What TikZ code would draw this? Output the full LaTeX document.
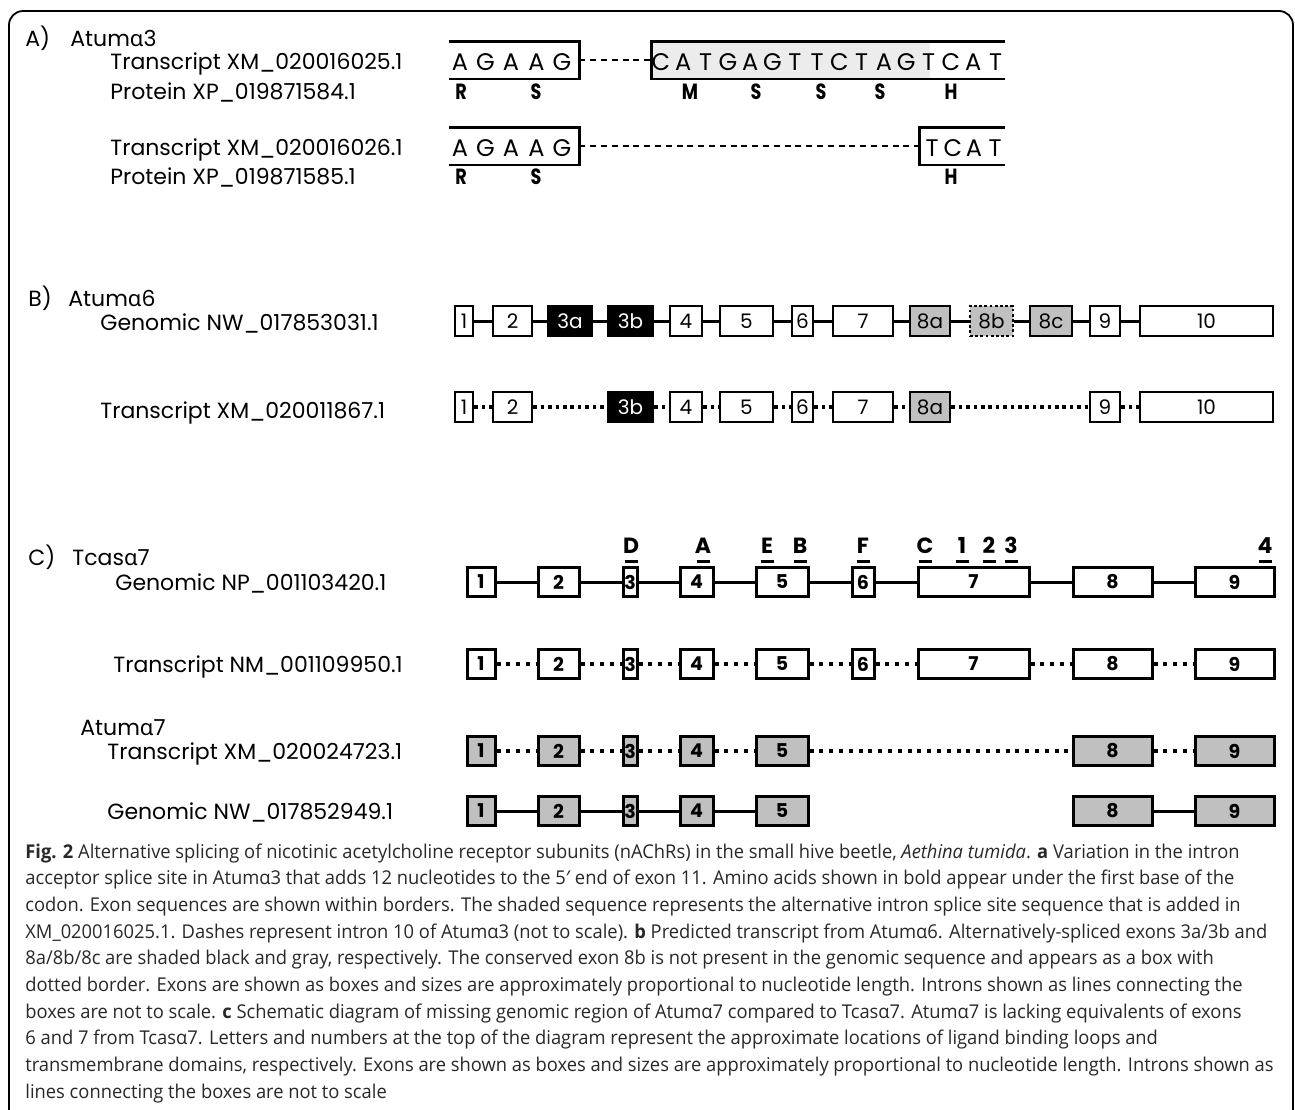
\documentclass[tikz,border=0pt]{standalone}
\usepackage{fontspec}
\setmainfont{Poppins}
\newfontfamily\grkfont{Noto Sans}
\newfontfamily\capfont{Open Sans}[FakeStretch=0.965]
\newfontfamily\aafont{Poppins}[FakeStretch=0.8]
\usetikzlibrary{positioning}
\definecolor{ExonGray}{RGB}{192,192,192}
\definecolor{SeqShade}{RGB}{236,236,236}
\definecolor{CapInk}{RGB}{40,40,40}
\newcommand\galpha{{\grkfont α}}
\newcommand\gprime{{\grkfont ′}}

\begin{document}
\begin{tikzpicture}[x=0.5pt,y=-0.5pt,
    seqname/.style={anchor=base west,inner sep=0,font=\fontsize{11}{13}\selectfont},
    seqrun/.style={minimum height=18.5pt,inner sep=0},
    seqedge/.style={line width=1.4pt},
    nucl/.style={anchor=base,inner sep=0,font=\fontsize{12}{14}\selectfont},
    amino/.style={anchor=base,inner sep=0,font=\aafont\bfseries\fontsize{11}{13}\selectfont},
    intron/.style={line width=0.6pt,dash pattern=on 3pt off 2.4pt},
    exon/.style={draw,line width=1.4pt,minimum height=15pt,inner sep=0,font=\fontsize{10}{12}\selectfont},
    cexon/.style={draw,line width=1.5pt,minimum height=14.5pt,inner sep=0,font=\bfseries\fontsize{9.5}{11}\selectfont},
    genline/.style={line width=1.5pt},
    txline/.style={line width=1.8pt,dash pattern=on 1.8pt off 1.9pt},
    ctxline/.style={line width=1.8pt,dash pattern=on 2pt off 2.9pt},
    loopmark/.style={anchor=base,inner sep=0,font=\bfseries\fontsize{11}{13}\selectfont},
    capline/.style={anchor=base west,inner sep=0,text=CapInk,font=\capfont\fontsize{9.5}{11}\selectfont}]
  \clip (0,0) rectangle (1295,1109);
  \fill[white] (0,0) rectangle (1295,1109);
  \draw[line width=0.9pt,rounded corners=7pt] (9,11) rectangle (1293,1140);

  % A) Atuma3
  \node[seqname] (lblA) at (25,46) {A)};
  \node[seqname] (genA) at (70,46) {Atum\galpha3};
  \node[seqname] (txA1) at (110,69) {Transcript XM\_020016025.1};
  \node[seqname] (prA1) at (110,99) {Protein XP\_019871584.1};
  \node[seqname] (txA2) at (110,155) {Transcript XM\_020016026.1};
  \node[seqname] (prA2) at (110,184) {Protein XP\_019871585.1};

  \node[seqrun,minimum width=65pt] (sq1) at (514,60) {};
  \node[seqrun,fill=SeqShade,minimum width=139pt] (sq2) at (791,60) {};
  \node[seqrun,minimum width=37.5pt] (sq3) at (967.5,60) {};
  \draw[seqedge] (sq1.north west) -- (sq1.north east) -- (sq1.south east) -- (sq1.south west);
  \draw[seqedge] (sq3.north east) -- (sq2.north west) -- (sq2.south west) -- (sq3.south east);
  \draw[intron] (sq1.east) -- (sq2.west);
  \foreach \b [count=\i from 0] in {A,G,A,A,G}
    \node[nucl] (ra\i) at (460+25.5*\i,70) {\b};
  \foreach \b [count=\i from 0] in {C,A,T,G,A,G,T,T,C,T,A,G,T,C,A,T}
    \node[nucl] (rb\i) at (661+22.3*\i,70) {\b};
  \foreach \aa/\x [count=\i] in {R/461,S/536,M/690,S/756,S/821,S/880,H/951}
    \node[amino] (pa\i) at (\x,99) {\aa};

  \node[seqrun,minimum width=65pt] (sq4) at (514,146) {};
  \node[seqrun,minimum width=42.5pt] (sq5) at (962.5,146) {};
  \draw[seqedge] (sq4.north west) -- (sq4.north east) -- (sq4.south east) -- (sq4.south west);
  \draw[seqedge] (sq5.north east) -- (sq5.north west) -- (sq5.south west) -- (sq5.south east);
  \draw[intron] (sq4.east) -- (sq5.west);
  \foreach \b [count=\i from 0] in {A,G,A,A,G}
    \node[nucl] (rc\i) at (460+25.5*\i,156) {\b};
  \foreach \b [count=\i from 0] in {T,C,A,T}
    \node[nucl] (rd\i) at (932+21*\i,156) {\b};
  \foreach \aa/\x [count=\i] in {R/461,S/536,H/951}
    \node[amino] (pb\i) at (\x,184) {\aa};

  % B) Atuma6
  \node[seqname] (lblB) at (28,306) {B)};
  \node[seqname] (genB) at (68,306) {Atum\galpha6};
  \node[seqname] (gnB) at (100,330) {Genomic NW\_017853031.1};
  \node[seqname] (txB) at (100,418) {Transcript XM\_020011867.1};

  \foreach \n/\xa/\xb/\fc/\tc in {1/455/473/white/black,2/493/532/white/black,
      3a/548/592/black/white,3b/608/653/black/white,4/670/702/white/black,
      5/720/773/white/black,6/792/813/white/black,7/833/893/white/black,
      8a/910/950/ExonGray/black,8c/1030/1072/ExonGray/black,
      9/1090/1120/white/black,10/1140/1273/white/black}
    \node[exon,fill=\fc,text=\tc,minimum width={(\xb-\xa)*0.5pt}] (g\n) at ({(\xa+\xb)/2},321) {\n};
  \node[exon,fill=ExonGray,dash pattern=on 1.4pt off 1.2pt,minimum width=21.5pt] (g8b) at (991.5,321) {8b};
  \foreach \a/\b in {1/2,2/3a,3a/3b,3b/4,4/5,5/6,6/7,7/8a,8a/8b,8b/8c,8c/9,9/10}
    \draw[genline] (g\a) -- (g\b);

  \foreach \n/\xa/\xb/\fc/\tc in {1/455/473/white/black,2/493/532/white/black,
      3b/608/653/black/white,4/670/702/white/black,5/720/773/white/black,
      6/792/813/white/black,7/833/893/white/black,8a/910/950/ExonGray/black,
      9/1090/1120/white/black,10/1140/1273/white/black}
    \node[exon,fill=\fc,text=\tc,minimum width={(\xb-\xa)*0.5pt}] (t\n) at ({(\xa+\xb)/2},407) {\n};
  \foreach \a/\b in {1/2,2/3b,3b/4,4/5,5/6,6/7,7/8a,8a/9,9/10}
    \draw[txline] (t\a) -- (t\b);

  % C) Tcasa7 / Atuma7
  \node[seqname] (lblC) at (28,565) {C)};
  \node[seqname] (genC) at (72,565) {Tcas\galpha7};
  \node[seqname] (gnC1) at (115,590) {Genomic NP\_001103420.1};
  \node[seqname] (txC1) at (113,672) {Transcript NM\_001109950.1};
  \node[seqname] (genD) at (80,735) {Atum\galpha7};
  \node[seqname] (txC2) at (107,759) {Transcript XM\_020024723.1};
  \node[seqname] (gnC2) at (107,819) {Genomic NW\_017852949.1};

  \foreach \m/\x in {D/631,A/703,E/767,B/800,F/863,C/925,1/962,2/989,3/1011,4/1265}{
    \node[loopmark] (dm\m) at (\x,553) {\m};
    \draw[line width=1.5pt] (\x-6.5,561) -- (\x+6.5,561);
  }

  \foreach \n/\xa/\xb in {1/467/495,2/538/579,3/623/637,4/680/713,5/756/808,
      6/852/874,7/918/1029,8/1073/1152,9/1195/1274}{
    \node[cexon,fill=white,minimum width={(\xb-\xa)*0.5pt}] (cg\n) at ({(\xa+\xb)/2},582) {\n};
    \node[cexon,fill=white,minimum width={(\xb-\xa)*0.5pt}] (ct\n) at ({(\xa+\xb)/2},664) {\n};
  }
  \foreach \n/\xa/\xb in {1/467/495,2/538/579,3/623/637,4/680/713,5/756/808,
      8/1073/1152,9/1195/1274}{
    \node[cexon,fill=ExonGray,minimum width={(\xb-\xa)*0.5pt}] (at\n) at ({(\xa+\xb)/2},751) {\n};
    \node[cexon,fill=ExonGray,minimum width={(\xb-\xa)*0.5pt}] (ag\n) at ({(\xa+\xb)/2},811) {\n};
  }
  \foreach \a/\b in {1/2,2/3,3/4,4/5,5/6,6/7,7/8,8/9}{
    \draw[genline] (cg\a) -- (cg\b);
    \draw[ctxline] (ct\a) -- (ct\b);
  }
  \foreach \a/\b in {1/2,2/3,3/4,4/5,5/8,8/9}
    \draw[ctxline] (at\a) -- (at\b);
  \foreach \a/\b in {1/2,2/3,3/4,4/5,8/9}
    \draw[genline] (ag\a) -- (ag\b);

  % caption
  \node[capline] (cap1) at (25,858) {{\bfseries Fig. 2} Alternative splicing of nicotinic acetylcholine receptor subunits (nAChRs) in the small hive beetle, \textit{Aethina tumida}. \textbf{a} Variation in the intron};
  \node[capline] (cap2) at (25,884.7) {acceptor splice site in Atumα3 that adds 12 nucleotides to the 5\gprime{} end of exon 11. Amino acids shown in bold appear under the first base of the};
  \node[capline] (cap3) at (25,911.4) {codon. Exon sequences are shown within borders. The shaded sequence represents the alternative intron splice site sequence that is added in};
  \node[capline] (cap4) at (25,938.1) {XM\_020016025.1. Dashes represent intron 10 of Atumα3 (not to scale). \textbf{b} Predicted transcript from Atumα6. Alternatively-spliced exons 3a/3b and};
  \node[capline] (cap5) at (25,964.8) {8a/8b/8c are shaded black and gray, respectively. The conserved exon 8b is not present in the genomic sequence and appears as a box with};
  \node[capline] (cap6) at (25,991.5) {dotted border. Exons are shown as boxes and sizes are approximately proportional to nucleotide length. Introns shown as lines connecting the};
  \node[capline] (cap7) at (25,1018.2) {boxes are not to scale. \textbf{c} Schematic diagram of missing genomic region of Atumα7 compared to Tcasα7. Atumα7 is lacking equivalents of exons};
  \node[capline] (cap8) at (25,1044.9) {6 and 7 from Tcasα7. Letters and numbers at the top of the diagram represent the approximate locations of ligand binding loops and};
  \node[capline] (cap9) at (25,1071.6) {transmembrane domains, respectively. Exons are shown as boxes and sizes are approximately proportional to nucleotide length. Introns shown as};
  \node[capline] (cap10) at (25,1098.3) {lines connecting the boxes are not to scale};
\end{tikzpicture}
\end{document}
